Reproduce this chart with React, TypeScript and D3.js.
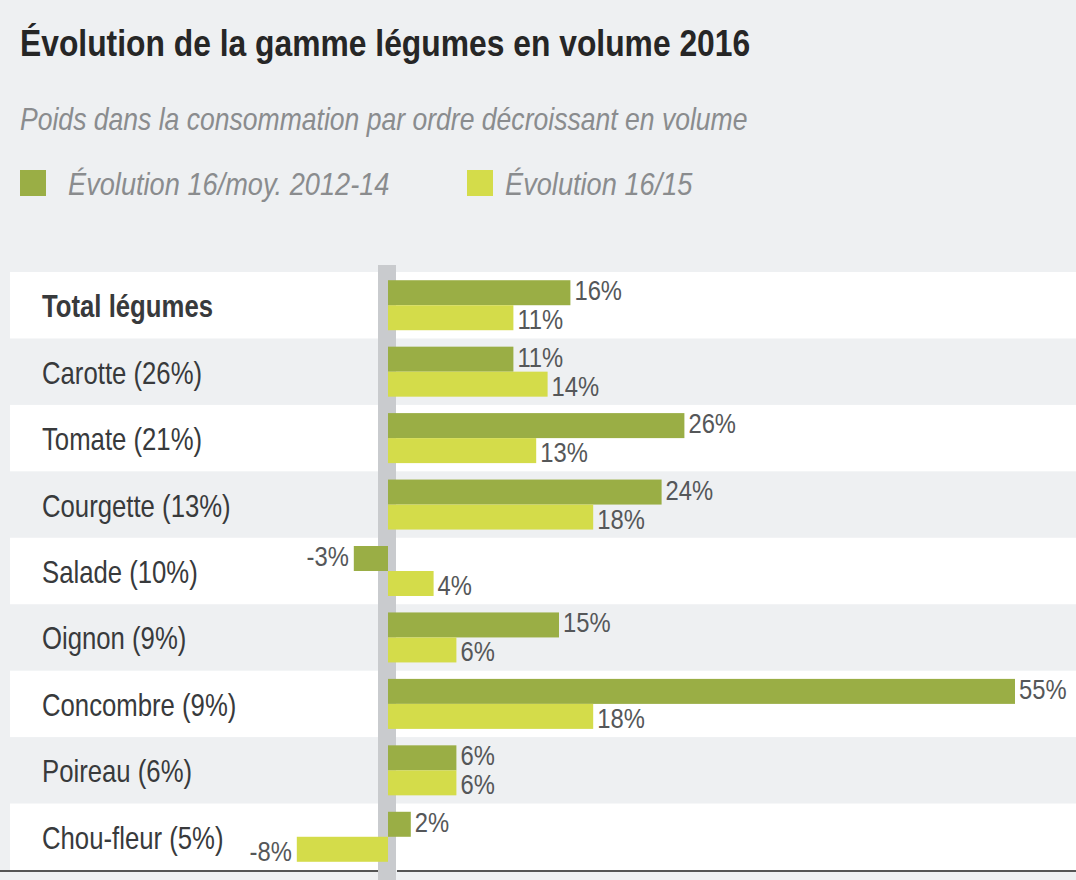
import React from "react";
import * as d3 from "d3";

const categories = [
  "Total légumes",
  "Carotte (26%)",
  "Tomate (21%)",
  "Courgette (13%)",
  "Salade (10%)",
  "Oignon (9%)",
  "Concombre (9%)",
  "Poireau (6%)",
  "Chou-fleur (5%)",
];
const evolVsMoy = [16, 11, 26, 24, -3, 15, 55, 6, 2];
const evolVs15 = [11, 14, 13, 18, 4, 6, 18, 6, -8];
const seriesNames = ["Évolution 16/moy. 2012-14", "Évolution 16/15"];
const seriesColors = ["#9aae45", "#d4dc4a"];

const title = "Évolution de la gamme légumes en volume 2016";
const subtitle = "Poids dans la consommation par ordre décroissant en volume";

const W = 1076;
const H = 880;
const FONT = "'Liberation Sans', Arial, Helvetica, sans-serif";

type TProps = {
  x: number;
  y: number;
  sx?: number;
  size: number;
  fill: string;
  weight?: string;
  italic?: boolean;
  anchor?: "start" | "end" | "middle";
  children: React.ReactNode;
};

// condensed text: horizontally squeezed to mimic a condensed grotesque
function T({ x, y, sx = 0.83, size, fill, weight, italic, anchor = "start", children }: TProps) {
  return (
    <text
      transform={`translate(${x},${y}) scale(${sx},1)`}
      fontSize={size}
      fontWeight={weight || "normal"}
      fontStyle={italic ? "italic" : "normal"}
      fill={fill}
      textAnchor={anchor}
    >
      {children}
    </text>
  );
}

export default function App() {
  const x = d3.scaleLinear().domain([0, 55]).range([388, 1015]);
  const y = d3.scaleBand<string>().domain(categories).range([272, 870]).paddingInner(0);
  const barH = 25;
  const series = [evolVsMoy, evolVs15];

  return (
    <svg
      width={W}
      height={H}
      style={{ position: "absolute", left: 0, top: 0, background: "#eef0f2" }}
      fontFamily={FONT}
    >
      <rect x={0} y={0} width={W} height={H} fill="#eef0f2" />
      <T x={20} y={56} size={37} sx={0.86} weight="bold" fill="#262626">
        {title}
      </T>
      <T x={20} y={130} size={32} sx={0.83} italic fill="#8a8c8e">
        {subtitle}
      </T>
      {/* legend */}
      <rect x={20} y={170} width={26} height={26} fill={seriesColors[0]} />
      <T x={68} y={195} size={32} sx={0.85} italic fill="#8a8c8e">
        {seriesNames[0]}
      </T>
      <rect x={467} y={170} width={26} height={26} fill={seriesColors[1]} />
      <T x={505} y={195} size={32} sx={0.85} italic fill="#8a8c8e">
        {seriesNames[1]}
      </T>

      {/* row backgrounds */}
      {categories.map((c, i) =>
        i % 2 === 0 ? (
          <rect key={"bg" + c} x={10} y={y(c)!} width={W - 10} height={y.bandwidth()} fill="#ffffff" />
        ) : null
      )}

      {/* zero axis band */}
      <rect x={378} y={265} width={18} height={H - 265} fill="#c9cbce" />

      {/* bottom line */}
      <line x1={0} x2={378} y1={871} y2={871} stroke="#555" strokeWidth={2} />
      <line x1={397} x2={W} y1={871} y2={871} stroke="#555" strokeWidth={2} />

      {/* category labels */}
      {categories.map((c, i) => (
        <T
          key={"lab" + c}
          x={42}
          y={y(c)! + y.bandwidth() / 2 + 12}
          size={31}
          sx={0.83}
          weight={i === 0 ? "bold" : "normal"}
          fill="#383a3c"
        >
          {c}
        </T>
      ))}

      {/* bars */}
      {categories.map((c, i) => {
        const cy = y(c)! + y.bandwidth() / 2;
        return series.map((vals, s) => {
          const v = vals[i];
          const top = cy - barH + s * barH;
          const x0 = x(Math.min(0, v));
          const x1 = x(Math.max(0, v));
          const bottom = top + barH;
          const ly = s === 0 ? bottom - 5 : bottom - 1;
          return (
            <g key={c + s}>
              <rect x={x0} y={top} width={x1 - x0} height={barH} fill={seriesColors[s]} />
              <T
                x={v >= 0 ? x1 + 4 : x0 - 5}
                y={ly}
                size={28}
                sx={0.85}
                fill="#555759"
                anchor={v >= 0 ? "start" : "end"}
              >
                {`${v}%`}
              </T>
            </g>
          );
        });
      })}
    </svg>
  );
}
